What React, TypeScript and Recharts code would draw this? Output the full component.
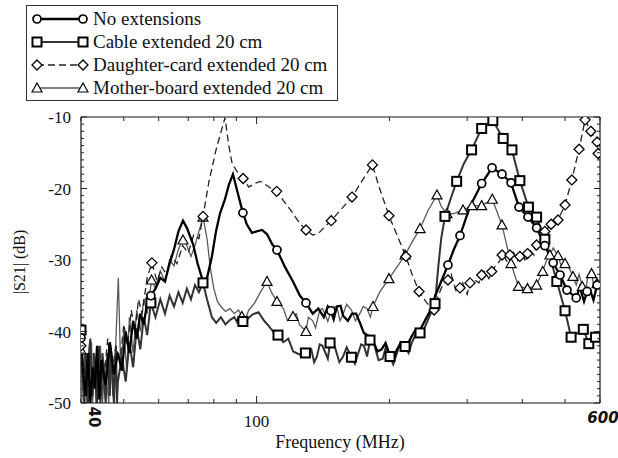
import React from 'react';
import { ComposedChart, Line, Scatter, XAxis, YAxis } from 'recharts';

// [frequency MHz, |S21| dB]
// points with a marker drawn on them
const noExtMarks = [
  [40, -40.9], [57.6, -35.0], [93.1, -23.4], [111.2, -28.6], [129.4, -36.0], [147.4, -37.1],
  [271.4, -30.7], [289, -26.6], [323.6, -19.3], [341.6, -17.1], [359.8, -18.0], [377.2, -19.2],
  [393.2, -22.6], [412, -24.0], [431, -25.5], [450, -28.0], [470, -30.4], [487, -32.1],
  [505, -34.2], [530, -35.3], [561, -34.4], [591, -33.5],
];
// the rest of the trace between markers
const noExtTrace = [
  [40.5, -46], [41, -49], [41.5, -43], [42, -50], [42.5, -45], [43, -48], [43.5, -42], [44, -49.5],
  [44.5, -44], [45.5, -47.5], [46.5, -41.5], [47.5, -46], [48.5, -43], [49.5, -45.5], [50.5, -40],
  [51.5, -43], [52.5, -38.5], [53.5, -41], [54.5, -37.5], [55.5, -39], [56.5, -36],
  [59, -34], [60.5, -32.5], [62, -33], [63.5, -30.5], [65, -28.5], [66.5, -26], [68.1, -24.5],
  [69.5, -25.5], [71.8, -27.8], [73.5, -30.5], [75.6, -33], [77.2, -32.5], [79.2, -29.5],
  [80.9, -26], [82.6, -23.5], [84.8, -21.5], [86.5, -19.5], [88.4, -18], [90.5, -20.5],
  [95, -25], [97.6, -26.2], [100, -26], [102.9, -25.8], [105.6, -26.4], [108.5, -27.8],
  [116, -31], [120.9, -33], [125.4, -35], [134, -37.5], [138, -36.8], [142, -38],
  [145, -36.5], [149.5, -38.3], [152, -36.5], [155, -36.4], [157, -37.8], [161, -38.5],
  [164.5, -37.5], [168, -37.5], [171.5, -38.8], [175, -40.2], [178, -40.5], [182, -40.8],
  [185, -41.8], [188, -42.8], [192, -42.5], [196, -41.6], [200, -43.2], [204, -43.8],
  [208, -42.5], [212, -41.6], [216, -41.5], [220, -41.8], [224, -40.8], [229, -39.8],
  [234.6, -39.8], [242, -38.2], [248, -37], [254, -35], [262, -33], [280, -28.5], [304.5, -22.5],
  [540, -33.8], [552, -35.8], [570, -34.2], [580, -35.6],
];

const cableMarks = [
  [40, -39.8], [57.6, -36], [75.6, -33.2], [93.1, -38.6], [111.8, -40.5], [129, -43],
  [146.7, -41.6], [164, -43.6], [180.7, -41.2], [200.6, -43.5], [217, -42.1], [234.6, -40.2],
  [253.7, -36.1], [267.2, -23.9], [284, -19], [307, -14.6], [323.6, -11.6], [343, -10.5],
  [362, -13], [379, -14.6], [395, -18.9], [413, -22.6], [431, -24], [450, -27.1], [479, -33],
  [500, -37.1], [516, -40.8], [550, -39.7], [566, -41.7], [586, -40.8],
];
const cableTrace = [
  [40.25, -44], [40.5, -48], [40.75, -50], [41, -43], [41.25, -46], [41.5, -50], [41.75, -42.5],
  [42, -41], [42.25, -47], [42.5, -49], [42.75, -43], [43, -44], [43.25, -48], [43.5, -50],
  [43.75, -45], [44, -42], [44.25, -50], [44.5, -48], [44.75, -43], [45, -45], [45.25, -48],
  [45.5, -50], [45.75, -44], [46, -43], [46.25, -47], [46.5, -49], [46.75, -42.5], [47, -44],
  [47.25, -48], [47.5, -50], [47.75, -45], [48, -42], [48.25, -50], [48.5, -47],
  [49.5, -43.5], [50.5, -47], [51.5, -41.5], [52.5, -45], [53.5, -39.5],
  [54.5, -42.5], [55.5, -38], [56.5, -40.5],
  [59, -38], [60.5, -35.5], [62, -37.5], [63.5, -35], [65, -36.5], [66.5, -34.5], [68, -36],
  [69.5, -34], [71, -35.5], [72.5, -33.5], [74, -34.5],
  [77.2, -35.5], [79.2, -38], [81, -38.8], [83, -38], [85, -39], [87, -38.4], [89, -38], [91, -39],
  [95.5, -38.2], [98, -37.6], [101, -37.3], [104, -38.5], [106.5, -39.2], [109, -40],
  [115, -41.5], [118, -41], [121, -42.8], [125, -43.2], [133, -42.5], [135, -44.3], [137, -43.5],
  [139, -41.8], [141, -42], [145, -43.8], [148.5, -41.2], [151, -42.5], [154, -44.3], [157, -43.5],
  [160, -42.2], [167, -44.5], [170, -43], [172.5, -41.8], [175, -42], [178, -43.5], [183, -40.8],
  [186, -42.5], [189, -44], [193, -43.8], [196, -42.3], [204, -44.6], [208, -43], [212, -41.5],
  [221, -43], [225, -41.5], [229, -40.5], [239, -39.8], [244, -38.5], [258, -31], [262, -27],
  [275, -21.5], [295, -16.5],
];

const daughterMarks = [
  [40, -42], [57.9, -30.4], [75.6, -23.9], [93.2, -18.6], [111, -20.4], [129.4, -25.8],
  [147.6, -24.5], [164.5, -21.2], [183, -16.7], [199.5, -23.8], [218, -29.5], [233.4, -34.4],
  [252.4, -37], [271.4, -32.8], [289, -33.9], [304.5, -33.2], [323.6, -32.1], [341, -31.6],
  [360, -29.3], [375, -29.3], [395, -29.5], [411, -29.1], [431, -27.9], [450, -26], [465, -25],
  [482, -24.4], [500, -22.3], [518, -18.8], [538, -14.5], [555, -10.4], [572, -12], [591, -13.5],
  [594, -15.1],
];
const daughterTrace = [
  [40.5, -47], [41, -44], [41.5, -49], [42, -42.5], [42.5, -48], [43, -45], [43.5, -50], [44, -43],
  [45, -47], [46, -41], [47, -46], [48, -42], [49, -44.5], [50, -39], [51, -42], [52, -37],
  [53, -40], [54, -35.5], [55, -37.5], [56.5, -32.5],
  [59.5, -33], [61, -31], [62.5, -32], [64, -29.5], [66, -30.5], [68, -28], [70, -29], [72, -26.5],
  [74, -27], [78, -19], [81, -14.5], [84.8, -10.1], [86.5, -14], [88, -16.5], [90, -17.5],
  [96, -19.8], [99, -19.3], [102, -19], [105, -19.5], [108, -20], [116, -22], [121, -23.5],
  [125, -24.8], [134, -26.5], [138, -26.3], [142, -25.5], [155, -23], [173, -19], [190, -20],
  [208, -26.5], [225, -32], [243, -36], [258, -35], [264, -33.5], [276, -32], [284, -34.6],
  [292, -33], [300, -34.8], [309, -32.6], [319, -33.2], [328, -31.6], [336, -32.6], [346, -31],
  [355, -30.2], [364, -29.5], [370, -30.3], [380, -28.6], [390, -30.2], [400, -29], [407, -30.3],
  [416, -28.6], [425, -29.3], [440, -27],
];

const motherMarks = [
  [40, -42.6], [57.8, -32.8], [68.1, -27.2], [75.6, -24], [92.6, -37.9], [105.6, -33],
  [111.2, -35.8], [120.9, -37.9], [129.4, -40], [183.6, -36.5], [199.5, -32.6], [217, -29.3],
  [234.6, -25.6], [256.3, -20.9], [270, -23.5], [293.6, -23], [307.7, -22.4], [323.6, -22.4],
  [342, -21.5], [359.8, -25.1], [377.2, -30.5], [392, -33.7], [411, -34], [431, -33.5],
  [445, -31.6], [462, -29.3], [482, -29.4], [500, -30.5], [521, -32.3], [547, -33.7],
  [574, -31.9], [591, -33.3],
];
const motherTrace = [
  [40.25, -46], [40.5, -50], [40.75, -43], [41, -45], [41.25, -50], [41.5, -48], [41.75, -45],
  [42, -44], [42.25, -41.5], [42.5, -50], [42.75, -47], [43, -46], [43.25, -50], [43.5, -43],
  [43.75, -46], [44, -49], [44.25, -42], [44.5, -45], [44.75, -50], [45.25, -44.5], [45.5, -50],
  [45.75, -47], [46.25, -50], [46.5, -44], [46.75, -42], [47.25, -49], [47.5, -48], [47.75, -44.5],
  [48, -41], [48.6, -32.5], [49.2, -45],
  [50, -40], [50.8, -45.5], [51.5, -38], [52.5, -43], [53.5, -37], [54.5, -40], [55.5, -35.5],
  [56.5, -37.5], [59, -34], [60.5, -31.5], [62, -33], [63.5, -30], [65, -30.8], [66.5, -28.5],
  [69.5, -28], [71, -29.5], [72.5, -28], [74, -26], [77.2, -27], [78.5, -31], [80, -34],
  [81.5, -35.8], [83, -36.5], [85, -37.2], [87, -36.8], [89, -37.5], [91, -37], [94, -38.5],
  [96, -37], [97.5, -36.5], [99, -36], [102, -34.5], [108, -34.5], [115, -36.8], [117.5, -38.5],
  [123, -37.5], [125, -39], [131, -38], [134, -38.5], [136, -39.5], [139, -37], [141, -36.8],
  [143, -37.6], [145, -38.6], [147, -37.4], [149.5, -36.6], [152, -36.5], [154.5, -38.5],
  [157, -37.6], [160, -36.2], [164, -37], [167.5, -38.5], [171, -37.6], [174.5, -36.5],
  [178, -36.8], [181, -38], [190, -34.5], [208, -31], [225, -27.5], [245, -23], [262, -22.5],
  [280, -23.5], [453, -30.2], [470, -28.3], [490, -30.8], [510, -31], [530, -33.5], [538, -32],
  [555, -34.8], [562, -32.6], [581, -33.6],
];

const FREQ_TICKS = [40, 50, 60, 70, 80, 90, 100, 200, 300, 400, 500, 600];
const DB_TICKS = Array.from({ length: 41 }, (_, i) => -50 + i);

const toPts = (a: number[][]) => a.map(([f, db]) => ({ f, db }));
const merge = (m: number[][], t: number[][]) => toPts([...m, ...t].sort((a, b) => a[0] - b[0]));

const SERIES = [
  { name: 'Mother-board extended 20 cm', marks: motherMarks, trace: motherTrace, shape: 'triangle', color: '#5a5a5a', width: 1.3, dash: undefined },
  { name: 'Daughter-card extended 20 cm', marks: daughterMarks, trace: daughterTrace, shape: 'diamond', color: '#222', width: 1.3, dash: '7 4' },
  { name: 'Cable extended 20 cm', marks: cableMarks, trace: cableTrace, shape: 'square', color: '#333', width: 2, dash: undefined },
  { name: 'No extensions', marks: noExtMarks, trace: noExtTrace, shape: 'circle', color: '#000', width: 2.3, dash: undefined },
];
const LEGEND_ORDER = [3, 2, 1, 0];

const FONT = '"Liberation Serif", "DejaVu Serif", serif';

function Marker({ shape, cx, cy }: { shape: string; cx: number; cy: number }) {
  const common = { fill: '#fff', stroke: '#000' };
  if (shape === 'circle') return <circle cx={cx} cy={cy} r={4} strokeWidth={1.7} {...common} />;
  if (shape === 'square') return <rect x={cx - 4.5} y={cy - 4.5} width={9} height={9} strokeWidth={2} {...common} />;
  if (shape === 'diamond')
    return <path d={`M${cx},${cy - 5}L${cx + 5},${cy}L${cx},${cy + 5}L${cx - 5},${cy}Z`} strokeWidth={1.3} {...common} />;
  return <path d={`M${cx},${cy - 5}L${cx + 5},${cy + 4}L${cx - 5},${cy + 4}Z`} strokeWidth={1.2} {...common} />;
}

const LeftTick = ({ x, y, payload }: any) => {
  const major = payload.value % 10 === 0;
  return (
    <g>
      <line x1={x} x2={x + (major ? 6 : 3)} y1={y} y2={y} stroke="#222" />
      {major && (
        <text x={x - 10} y={y + 6} textAnchor="end" fontSize={17} fontFamily={FONT} fill="#111">
          {payload.value}
        </text>
      )}
    </g>
  );
};
const RightTick = ({ x, y, payload }: any) => {
  const major = payload.value % 10 === 0;
  return <line x1={x} x2={x - (major ? 6 : 3)} y1={y} y2={y} stroke="#222" />;
};
const BottomTick = ({ x, y, payload }: any) => {
  const v = payload.value;
  return (
    <g>
      <line x1={x} x2={x} y1={y} y2={y - (v === 100 ? 7 : 4)} stroke="#222" />
      {v === 100 && (
        <text x={x} y={y + 24} textAnchor="middle" fontSize={17} fontFamily={FONT} fill="#111">100</text>
      )}
      {v === 40 && (
        <text x={x + 12} y={y + 18} textAnchor="middle" fontSize={15} fontWeight="bold" fontFamily="DejaVu Sans" fill="#111" transform={`rotate(90 ${x + 12} ${y + 14})`}>40</text>
      )}
      {v === 600 && (
        <text x={x + 3} y={y + 20} textAnchor="middle" fontSize={15} fontWeight="bold" fontStyle="italic" fontFamily="DejaVu Sans" fill="#111">600</text>
      )}
    </g>
  );
};
const TopTick = ({ x, y, payload }: any) => (
  <line x1={x} x2={x} y1={y} y2={y + (payload.value === 100 ? 7 : 4)} stroke="#222" />
);

function LegendRow({ s }: { s: (typeof SERIES)[number] }) {
  return (
    <div style={{ display: 'flex', alignItems: 'center', height: 23 }}>
      <svg width={58} height={14} style={{ marginRight: 4 }}>
        <line x1={6} x2={52} y1={7} y2={7} stroke={s.color} strokeWidth={s.width} strokeDasharray={s.dash} />
        <Marker shape={s.shape} cx={6} cy={7} />
        <Marker shape={s.shape} cx={52} cy={7} />
      </svg>
      <span>{s.name}</span>
    </div>
  );
}

const axisLine = { stroke: '#111', strokeWidth: 1.2 };

export default function App() {
  return (
    <div style={{ position: 'absolute', left: 0, top: 0, width: 618, height: 458, background: '#fff', fontFamily: FONT }}>
      <ComposedChart width={618} height={458} margin={{ top: 107, right: 8, bottom: 25, left: 41 }}>
        <XAxis
          xAxisId="b" dataKey="f" type="number" scale="log" domain={[40, 600]} allowDataOverflow
          ticks={FREQ_TICKS} interval={0} height={30} tickSize={0} tickMargin={0} tickLine={false}
          tick={(p: any) => <BottomTick {...p} />} axisLine={axisLine}
        />
        <XAxis
          xAxisId="t" orientation="top" dataKey="f" type="number" scale="log" domain={[40, 600]} allowDataOverflow
          ticks={FREQ_TICKS} interval={0} height={10} tickSize={0} tickMargin={0} tickLine={false}
          tick={(p: any) => <TopTick {...p} />} axisLine={axisLine}
        />
        <YAxis
          yAxisId="l" dataKey="db" type="number" domain={[-50, -10]} allowDataOverflow
          ticks={DB_TICKS} interval={0} width={40} tickSize={0} tickMargin={0} tickLine={false}
          tick={(p: any) => <LeftTick {...p} />} axisLine={axisLine}
        />
        <YAxis
          yAxisId="r" orientation="right" dataKey="db" type="number" domain={[-50, -10]} allowDataOverflow
          ticks={DB_TICKS} interval={0} width={10} tickSize={0} tickMargin={0} tickLine={false}
          tick={(p: any) => <RightTick {...p} />} axisLine={axisLine}
        />
        {SERIES.map((s) => (
          <Line
            key={s.name}
            xAxisId="b"
            yAxisId="l"
            data={merge(s.marks, s.trace)}
            dataKey="db"
            stroke={s.color}
            strokeWidth={s.width}
            strokeDasharray={s.dash}
            dot={false}
            activeDot={false}
            isAnimationActive={false}
          />
        ))}
        {SERIES.map((s) => (
          <Scatter
            key={s.name + '-m'}
            xAxisId="b"
            yAxisId="l"
            data={toPts(s.marks)}
            dataKey="db"
            isAnimationActive={false}
            shape={(p: any) => <Marker shape={s.shape} cx={p.cx} cy={p.cy} />}
          />
        ))}
      </ComposedChart>

      <div
        style={{
          position: 'absolute', left: 26, top: 5, width: 306, padding: '1px 0 1px 4px',
          border: '1px solid #333', fontSize: 19, color: '#111', background: '#fff', lineHeight: 1,
        }}
      >
        {LEGEND_ORDER.map((i) => (
          <LegendRow key={i} s={SERIES[i]} />
        ))}
      </div>

      <div
        style={{
          position: 'absolute', left: 20, top: 262, fontSize: 16, color: '#111', whiteSpace: 'nowrap',
          transform: 'translate(-50%, -50%) rotate(-90deg)',
        }}
      >
        |S21| (dB)
      </div>
      <div
        style={{
          position: 'absolute', left: 340, top: 442, fontSize: 18, color: '#111', whiteSpace: 'nowrap',
          transform: 'translate(-50%, -50%)',
        }}
      >
        Frequency (MHz)
      </div>
    </div>
  );
}
